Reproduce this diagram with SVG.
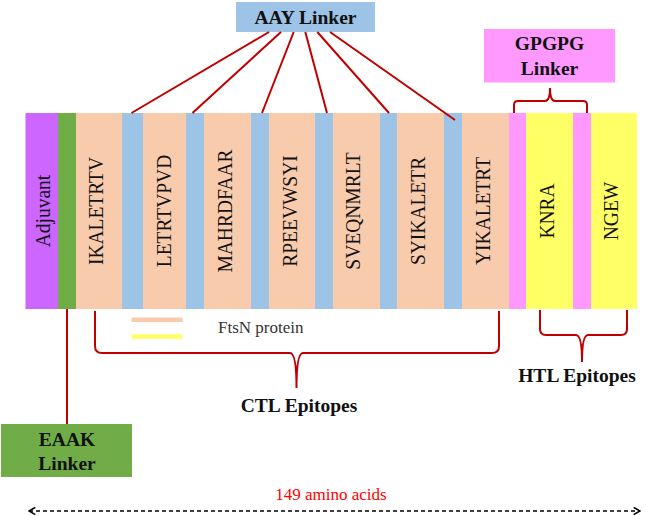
<svg xmlns="http://www.w3.org/2000/svg" width="646" height="516" viewBox="0 0 646 516">
<style>
.seg{stroke:none}
.adj{fill:#CC66FF}.grn{fill:#70AD47}.pch{fill:#F8CBAD}.blu{fill:#9DC3E6}.pnk{fill:#FF99FF}.yel{fill:#FFFF66}
.vt{font-family:"Liberation Serif","Times New Roman",serif;font-size:19.5px;fill:#111;text-anchor:middle}
.bt{font-family:"Liberation Serif","Times New Roman",serif;font-size:19.5px;font-weight:bold;fill:#111;text-anchor:middle}
.lg{font-family:"Liberation Serif","Times New Roman",serif;font-size:17px;fill:#333}
.len{font-family:"Liberation Serif","Times New Roman",serif;font-size:17px;fill:#FF0000;text-anchor:middle}
.con{stroke:#C00000;stroke-width:2;fill:none}
</style>
<defs>
<marker id="chev" viewBox="0 0 10 10" refX="9" refY="5" markerWidth="9" markerHeight="9" markerUnits="userSpaceOnUse" orient="auto-start-reverse">
<path d="M2,1 L9,5 L2,9" fill="none" stroke="#000" stroke-width="1.8"/>
</marker>
</defs>

<g id="construct">
<rect class="seg adj" x="25.5" y="113" width="32.5" height="196"/>
<rect class="seg grn" x="58" y="113" width="18" height="196"/>
<rect class="seg pch" x="76" y="113" width="46" height="196"/>
<rect class="seg blu" x="122" y="113" width="21" height="196"/>
<rect class="seg pch" x="143" y="113" width="43" height="196"/>
<rect class="seg blu" x="186" y="113" width="18" height="196"/>
<rect class="seg pch" x="204" y="113" width="47" height="196"/>
<rect class="seg blu" x="251" y="113" width="18" height="196"/>
<rect class="seg pch" x="269" y="113" width="46" height="196"/>
<rect class="seg blu" x="315" y="113" width="18" height="196"/>
<rect class="seg pch" x="333" y="113" width="47" height="196"/>
<rect class="seg blu" x="380" y="113" width="17" height="196"/>
<rect class="seg pch" x="397" y="113" width="47" height="196"/>
<rect class="seg blu" x="444" y="113" width="18" height="196"/>
<rect class="seg pch" x="462" y="113" width="47" height="196"/>
<rect class="seg pnk" x="509" y="113" width="17" height="196"/>
<rect class="seg yel" x="526" y="113" width="47" height="196"/>
<rect class="seg pnk" x="573" y="113" width="18" height="196"/>
<rect class="seg yel" x="591" y="113" width="46" height="196"/>
</g>

<g id="labels-segments">
<text class="vt" transform="translate(50,211) scale(1.08,1) rotate(-90)">Adjuvant</text>
<text class="vt" transform="translate(102.5,211) scale(1.08,1) rotate(-90)">IKALETRTV</text>
<text class="vt" transform="translate(170.5,211) scale(1.08,1) rotate(-90)">LETRTVPVD</text>
<text class="vt" transform="translate(231.5,211) scale(1.08,1) rotate(-90)">MAHRDFAAR</text>
<text class="vt" transform="translate(296.5,211) scale(1.08,1) rotate(-90)">RPEEVWSYI</text>
<text class="vt" transform="translate(360,211) scale(1.08,1) rotate(-90)">SVEQNMRLT</text>
<text class="vt" transform="translate(425,211) scale(1.08,1) rotate(-90)">SYIKALETR</text>
<text class="vt" transform="translate(490,211) scale(1.08,1) rotate(-90)">YIKALETRT</text>
<text class="vt" transform="translate(553.5,211) scale(1.08,1) rotate(-90)">KNRA</text>
<text class="vt" transform="translate(618,211) scale(1.08,1) rotate(-90)">NGEW</text>
</g>

<g id="aay-linker">
<rect x="236" y="2" width="139" height="30" fill="#9DC3E6"/>
<text class="bt" x="305.5" y="24">AAY Linker</text>
</g>

<g id="gpgpg-linker">
<rect x="484" y="29" width="131" height="53.5" fill="#FF99FF"/>
<text class="bt" x="549.5" y="50">GPGPG</text>
<text class="bt" x="549.5" y="75">Linker</text>
</g>

<g id="eaak-linker">
<rect x="1" y="424" width="131" height="53" fill="#70AD47"/>
<text class="bt" x="67" y="446">EAAK</text>
<text class="bt" x="67" y="469.5">Linker</text>
</g>

<g id="ctl-label"><text class="bt" x="299" y="411.5">CTL Epitopes</text></g>
<g id="htl-label"><text class="bt" x="577" y="381.5">HTL Epitopes</text></g>

<g id="legend">
<rect x="131.5" y="317.5" width="51" height="4.5" fill="#F8CBAD"/>
<rect x="131.5" y="334.3" width="51" height="4.5" fill="#FFFF66"/>
<text class="lg" x="218" y="332.5">FtsN protein</text>
</g>

<g id="length">
<text class="len" x="331" y="500">149 amino acids</text>
</g>

<g id="connectors">
<line class="con" x1="269" y1="32" x2="131.5" y2="113"/>
<line class="con" x1="281" y1="32" x2="192.5" y2="113"/>
<line class="con" x1="293.7" y1="32" x2="262" y2="113"/>
<line class="con" x1="305.3" y1="32" x2="327" y2="113"/>
<line class="con" x1="317.3" y1="32" x2="389" y2="113"/>
<line class="con" x1="330" y1="32" x2="455" y2="120"/>
<path class="con" d="M514,113 V105 Q514,101 518,101 H545 Q550,101 550,88 Q550,101 555,101 H583 Q587,101 587,105 V113"/>
<path class="con" d="M95,311 V346 Q95,353 102,353 H290 Q296.5,353 296.5,388 Q296.5,353 303,353 H492 Q499,353 499,346 V311"/>
<path class="con" d="M540,310 V329 Q540,335 546,335 H576 Q582,335 582,362 Q582,335 588,335 H621 Q627,335 627,329 V310"/>
<line class="con" x1="67" y1="309" x2="67" y2="424"/>
<line x1="29" y1="511" x2="640" y2="511" stroke="#000" stroke-width="1.6" stroke-dasharray="4 3" marker-start="url(#chev)" marker-end="url(#chev)"/>
</g>
</svg>
